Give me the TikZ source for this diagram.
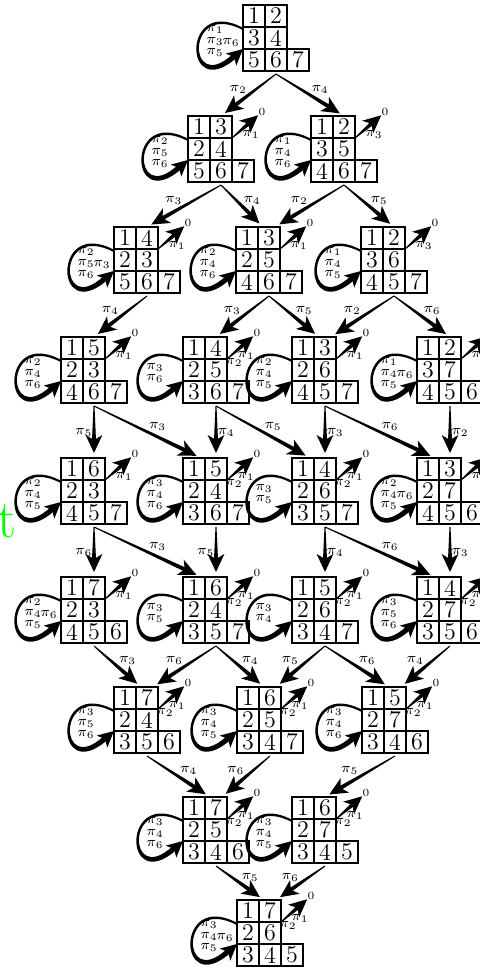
\documentclass[tikz,border=0pt]{standalone}
\usepackage{tikz}
\usetikzlibrary{calc}

\tikzset{
  tabbox/.style={anchor=north west, minimum width=33pt, minimum height=33pt, inner sep=0pt},
  cell/.style={line width=0.6pt},
  num/.style={inner sep=0pt, font=\fontsize{12}{12}\selectfont},
  lab/.style={inner sep=0.6pt, font=\fontsize{7.5}{5.9}\selectfont, align=center},
  zero/.style={inner sep=0pt, font=\fontsize{5.5}{5.5}\selectfont},
}

% tableau of shape (2,2,3)
\newcommand{\ytab}[9]{%
  \node[tabbox] (#1) at (#2) {};
  \begin{scope}[shift={(#1.north west)}]
    \draw[cell] (0,0) rectangle (44,44) (22,0) -- (22,66) (0,22) -- (44,22) (0,44) rectangle (66,66) (44,44) -- (44,66);
    \node[num] at (11,11) {#3}; \node[num] at (33,11) {#4};
    \node[num] at (11,33) {#5}; \node[num] at (33,33) {#6};
    \node[num] at (11,55) {#7}; \node[num] at (33,55) {#8}; \node[num] at (55,55) {#9};
    \coordinate (#1-n) at (33,0); \coordinate (#1-w) at (18,0);
    \coordinate (#1-nl) at (27,0); \coordinate (#1-nr) at (39,0);
    \coordinate (#1-s) at (33,69); \coordinate (#1-e) at (44,22);
  \end{scope}}

% thick arrow, thin at its start
\newcommand{\taper}[2]{%
  \coordinate (tip) at ($(#2)!2.5pt!(#1)$);
  \coordinate (nch) at ($(tip)!6.5pt!(#1)$);
  \coordinate (bse) at ($(tip)!9pt!(#1)$);
  \fill ($(#1)!0.25pt!90:(tip)$) -- ($(nch)!1pt!90:(tip)$) -- ($(nch)!1pt!-90:(tip)$) -- ($(#1)!0.25pt!-90:(tip)$) -- cycle;
  \fill (tip) -- ($(bse)!4.2pt!90:(tip)$) -- (nch) -- ($(bse)!4.2pt!-90:(tip)$) -- cycle;}

\newcommand{\tedge}[4][above]{\taper{#2}{#3}\path (#2) -- (#3) node[lab, midway, #1] {#4};}

\newcommand{\selfloop}[3][]{%
  \begin{scope}[shift={(#2.north west)}]
    \fill (0.5,23.1) .. controls (-62,-10.8) and (-60.2,99) .. (-7.3,53.5) -- (-10.7,49.5) .. controls (-55.8,91) and (-58,-5.2) .. (-0.5,24.9) -- cycle;
    \fill (0,44) -- (-6.7,60.6) -- (-9,51.9) -- (-17.3,48.6) -- cycle;
    \node[lab] at (-28,36) {#3};
    \ifx\relax#1\relax\else\node[lab] at (-12,37) {#1};\fi
  \end{scope}}

\newcommand{\tozero}[3][]{%
  \node[zero] (#2-0) at ($(#2.north west)+(74,-4)$) {0};
  \taper{#2-e}{#2-0}
  \node[lab] at ($(#2.north west)+(63,18)$) {#3};
  \ifx\relax#1\relax\else\node[lab] at ($(#2.north west)+(51,25)$) {#1};\fi}

\begin{document}
\begin{tikzpicture}[x=0.5pt, y=-0.5pt]
  \useasboundingbox (0,0) rectangle (480,969);
  \node[anchor=base west, inner sep=0pt, text=green, font=\fontsize{27}{27}\selectfont] (gt) at (-3,537) {t};

  \ytab{t0}{243,5}{1}{2}{3}{4}{5}{6}{7}
  \ytab{t1a}{188,116}{1}{3}{2}{4}{5}{6}{7}
  \ytab{t1b}{311,116}{1}{2}{3}{5}{4}{6}{7}
  \ytab{t2a}{114,227}{1}{4}{2}{3}{5}{6}{7}
  \ytab{t2b}{236,227}{1}{3}{2}{5}{4}{6}{7}
  \ytab{t2c}{361,227}{1}{2}{3}{6}{4}{5}{7}
  \ytab{t3a}{61,337}{1}{5}{2}{3}{4}{6}{7}
  \ytab{t3b}{183,337}{1}{4}{2}{5}{3}{6}{7}
  \ytab{t3c}{292,337}{1}{3}{2}{6}{4}{5}{7}
  \ytab{t3d}{417,337}{1}{2}{3}{7}{4}{5}{6}
  \ytab{t4a}{61,458}{1}{6}{2}{3}{4}{5}{7}
  \ytab{t4b}{183,458}{1}{5}{2}{4}{3}{6}{7}
  \ytab{t4c}{292,458}{1}{4}{2}{6}{3}{5}{7}
  \ytab{t4d}{417,458}{1}{3}{2}{7}{4}{5}{6}
  \ytab{t5a}{61,577}{1}{7}{2}{3}{4}{5}{6}
  \ytab{t5b}{183,577}{1}{6}{2}{4}{3}{5}{7}
  \ytab{t5c}{292,577}{1}{5}{2}{6}{3}{4}{7}
  \ytab{t5d}{417,577}{1}{4}{2}{7}{3}{5}{6}
  \ytab{t6a}{114,687}{1}{7}{2}{4}{3}{5}{6}
  \ytab{t6b}{237,687}{1}{6}{2}{5}{3}{4}{7}
  \ytab{t6c}{362,687}{1}{5}{2}{7}{3}{4}{6}
  \ytab{t7a}{183,797}{1}{7}{2}{5}{3}{4}{6}
  \ytab{t7b}{292,797}{1}{6}{2}{7}{3}{4}{5}
  \ytab{t8}{237,900}{1}{7}{2}{6}{3}{4}{5}

  \selfloop[$\pi_6$]{t0}{$\pi_1$\\$\pi_3$\\$\pi_5$}
  \selfloop{t1a}{$\pi_2$\\$\pi_5$\\$\pi_6$}
  \selfloop{t1b}{$\pi_1$\\$\pi_4$\\$\pi_6$}
  \selfloop[$\pi_3$]{t2a}{$\pi_2$\\$\pi_5$\\$\pi_6$}
  \selfloop{t2b}{$\pi_2$\\$\pi_4$\\$\pi_6$}
  \selfloop{t2c}{$\pi_1$\\$\pi_4$\\$\pi_5$}
  \selfloop{t3a}{$\pi_2$\\$\pi_4$\\$\pi_6$}
  \selfloop{t3b}{$\pi_3$\\$\pi_6$}
  \selfloop{t3c}{$\pi_2$\\$\pi_4$\\$\pi_5$}
  \selfloop[$\pi_6$]{t3d}{$\pi_1$\\$\pi_4$\\$\pi_5$}
  \selfloop{t4a}{$\pi_2$\\$\pi_4$\\$\pi_5$}
  \selfloop{t4b}{$\pi_3$\\$\pi_4$\\$\pi_6$}
  \selfloop{t4c}{$\pi_3$\\$\pi_5$}
  \selfloop[$\pi_6$]{t4d}{$\pi_2$\\$\pi_4$\\$\pi_5$}
  \selfloop[$\pi_6$]{t5a}{$\pi_2$\\$\pi_4$\\$\pi_5$}
  \selfloop{t5b}{$\pi_3$\\$\pi_5$}
  \selfloop{t5c}{$\pi_3$\\$\pi_4$}
  \selfloop{t5d}{$\pi_3$\\$\pi_5$\\$\pi_6$}
  \selfloop{t6a}{$\pi_3$\\$\pi_5$\\$\pi_6$}
  \selfloop{t6b}{$\pi_3$\\$\pi_4$\\$\pi_5$}
  \selfloop{t6c}{$\pi_3$\\$\pi_4$\\$\pi_6$}
  \selfloop{t7a}{$\pi_3$\\$\pi_4$\\$\pi_6$}
  \selfloop{t7b}{$\pi_3$\\$\pi_4$\\$\pi_5$}
  \selfloop[$\pi_6$]{t8}{$\pi_3$\\$\pi_4$\\$\pi_5$}

  \tozero{t1a}{$\pi_1$}
  \tozero{t1b}{$\pi_3$}
  \tozero{t2a}{$\pi_1$}
  \tozero{t2b}{$\pi_1$}
  \tozero{t2c}{$\pi_3$}
  \tozero{t3a}{$\pi_1$}
  \tozero[$\pi_2$]{t3b}{$\pi_1$}
  \tozero{t3c}{$\pi_1$}
  \tozero{t3d}{$\pi_3$}
  \tozero{t4a}{$\pi_1$}
  \tozero[$\pi_2$]{t4b}{$\pi_1$}
  \tozero[$\pi_2$]{t4c}{$\pi_1$}
  \tozero{t4d}{$\pi_1$}
  \tozero{t5a}{$\pi_1$}
  \tozero[$\pi_2$]{t5b}{$\pi_1$}
  \tozero[$\pi_2$]{t5c}{$\pi_1$}
  \tozero[$\pi_2$]{t5d}{$\pi_1$}
  \tozero[$\pi_2$]{t6a}{$\pi_1$}
  \tozero[$\pi_2$]{t6b}{$\pi_1$}
  \tozero[$\pi_2$]{t6c}{$\pi_1$}
  \tozero[$\pi_2$]{t7a}{$\pi_1$}
  \tozero[$\pi_2$]{t7b}{$\pi_1$}
  \tozero[$\pi_2$]{t8}{$\pi_1$}

  \tedge[above left]{t0-s}{t1a-n}{$\pi_2$}
  \tedge[above right]{t0-s}{t1b-n}{$\pi_4$}
  \tedge[above left]{t1a-s}{t2a-n}{$\pi_3$}
  \tedge[above right]{t1a-s}{t2b-nl}{$\pi_4$}
  \tedge[above left]{t1b-s}{t2b-nr}{$\pi_2$}
  \tedge[above right]{t1b-s}{t2c-n}{$\pi_5$}
  \tedge[above left]{t2a-s}{t3a-n}{$\pi_4$}
  \tedge[above left]{t2b-s}{t3b-n}{$\pi_3$}
  \tedge[above right]{t2b-s}{t3c-nl}{$\pi_5$}
  \tedge[above left]{t2c-s}{t3c-nr}{$\pi_2$}
  \tedge[above right]{t2c-s}{t3d-n}{$\pi_6$}
  \tedge[left]{t3a-s}{t4a-n}{$\pi_5$}
  \tedge[above right]{t3a-s}{t4b-w}{$\pi_3$}
  \tedge[right]{t3b-s}{t4b-n}{$\pi_4$}
  \tedge[above right]{t3b-s}{t4c-w}{$\pi_5$}
  \tedge[right]{t3c-s}{t4c-n}{$\pi_3$}
  \tedge[above right]{t3c-s}{t4d-w}{$\pi_6$}
  \tedge[right]{t3d-s}{t4d-n}{$\pi_2$}
  \tedge[left]{t4a-s}{t5a-n}{$\pi_6$}
  \tedge[above right]{t4a-s}{t5b-w}{$\pi_3$}
  \tedge[left]{t4b-s}{t5b-n}{$\pi_5$}
  \tedge[right]{t4c-s}{t5c-n}{$\pi_4$}
  \tedge[above right]{t4c-s}{t5d-w}{$\pi_6$}
  \tedge[right]{t4d-s}{t5d-n}{$\pi_3$}
  \tedge[above right]{t5a-s}{t6a-nl}{$\pi_3$}
  \tedge[above left]{t5b-s}{t6a-nr}{$\pi_6$}
  \tedge[above right]{t5b-s}{t6b-nl}{$\pi_4$}
  \tedge[above left]{t5c-s}{t6b-nr}{$\pi_5$}
  \tedge[above right]{t5c-s}{t6c-nl}{$\pi_6$}
  \tedge[above left]{t5d-s}{t6c-nr}{$\pi_4$}
  \tedge[above right]{t6a-s}{t7a-nl}{$\pi_4$}
  \tedge[above left]{t6b-s}{t7a-nr}{$\pi_6$}
  \tedge[above left]{t6c-s}{t7b-n}{$\pi_5$}
  \tedge[above right]{t7a-s}{t8-nl}{$\pi_5$}
  \tedge[above left]{t7b-s}{t8-nr}{$\pi_6$}
\end{tikzpicture}
\end{document}
